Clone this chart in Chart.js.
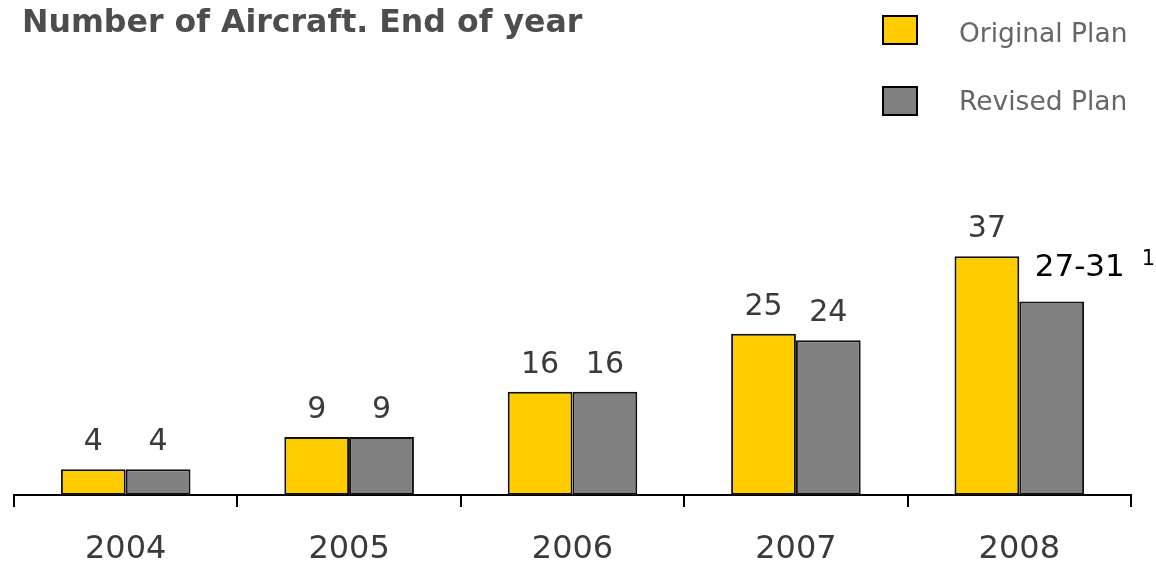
<!DOCTYPE html>
<html>
<head>
<meta charset="utf-8">
<script src="https://cdn.jsdelivr.net/npm/chart.js@4.4.1/dist/chart.umd.min.js"></script>
<style>
  html, body { margin: 0; padding: 0; background: #fff; }
  body { width: 1156px; height: 563px; position: relative; overflow: hidden; font-family: "DejaVu Sans", Verdana, sans-serif; }
  #chart { position: absolute; left: 0; top: 0; }
  .title { position: absolute; left: 22px; top: 5px; font-size: 31.6px; line-height: 32px; font-weight: bold; color: #4d4d4d; white-space: nowrap; }
  .legend { position: absolute; left: 882px; top: 0; }
  .legend span { position: absolute; white-space: nowrap; font-size: 26.5px; line-height: 26px; color: #666; }
  .legend i { position: absolute; left: 0; width: 32px; height: 26px; border: 2px solid #000; }
</style>
</head>
<body>
<canvas id="chart" width="1156" height="563"></canvas>
<div class="title">Number of Aircraft. End of year</div>
<div class="legend">
  <i style="top:15px;background:#ffcc00"></i><span style="left:77px;top:20px">Original Plan</span>
  <i style="top:86px;background:#808080"></i><span style="left:77px;top:88px">Revised Plan</span>
</div>
<script>
const years = ["2004", "2005", "2006", "2007", "2008"];
const originalPlan = [4, 9, 16, 25, 37];
const revisedPlan = [4, 9, 16, 24, 30];
// revised 2008 is quoted as a range with a footnote
const revisedRanges = [null, null, null, null, "27-31"];
const revisedNotes = [null, null, null, null, "1"];

const FONT = "'DejaVu Sans', Verdana, sans-serif";

// value labels above each bar
const barLabels = {
  id: "barLabels",
  afterDatasetsDraw(chart) {
    const ctx = chart.ctx;
    ctx.save();
    ctx.textBaseline = "alphabetic";
    chart.data.datasets.forEach((ds, di) => {
      chart.getDatasetMeta(di).data.forEach((bar, i) => {
        const range = di === 1 ? revisedRanges[i] : null;
        if (range) {
          ctx.font = `31px ${FONT}`;
          ctx.fillStyle = "#000";
          ctx.textAlign = "left";
          const x = bar.x - 17;
          const y = bar.y - 26;
          ctx.fillText(range, x, y);
          const w = ctx.measureText(range).width;
          ctx.font = `21px ${FONT}`;
          ctx.fillText(revisedNotes[i], x + w + 17, y - 11);
          return;
        }
        ctx.font = `30px ${FONT}`;
        ctx.fillStyle = "#3a3a3a";
        ctx.textAlign = "center";
        ctx.fillText(String(ds.data[i]), bar.x, bar.y - 19);
      });
    });
    ctx.restore();
  }
};

new Chart(document.getElementById("chart"), {
  type: "bar",
  data: {
    labels: years,
    datasets: [
      { label: "Original Plan", data: originalPlan, backgroundColor: "#ffcc00" },
      { label: "Revised Plan", data: revisedPlan, backgroundColor: "#808080" }
    ]
  },
  options: {
    responsive: false,
    animation: false,
    layout: { padding: { top: 237, left: 14, right: 25, bottom: 0 } },
    datasets: {
      bar: {
        borderColor: "#111",
        borderWidth: 2,
        borderSkipped: false,
        categoryPercentage: 0.58,
        barPercentage: 1
      }
    },
    scales: {
      x: {
        offset: true,
        afterFit: (scale) => { scale.height = 68; },
        border: { display: true, color: "#000", width: 2 },
        grid: { offset: true, drawOnChartArea: false, drawTicks: true, tickLength: 12, color: "#000", lineWidth: 2 },
        ticks: { color: "#3a3a3a", font: { family: FONT, size: 32 }, padding: 23 }
      },
      y: { display: false, min: 0, max: 40 }
    },
    plugins: { legend: { display: false }, tooltip: { enabled: false } }
  },
  plugins: [barLabels]
});
</script>
</body>
</html>
